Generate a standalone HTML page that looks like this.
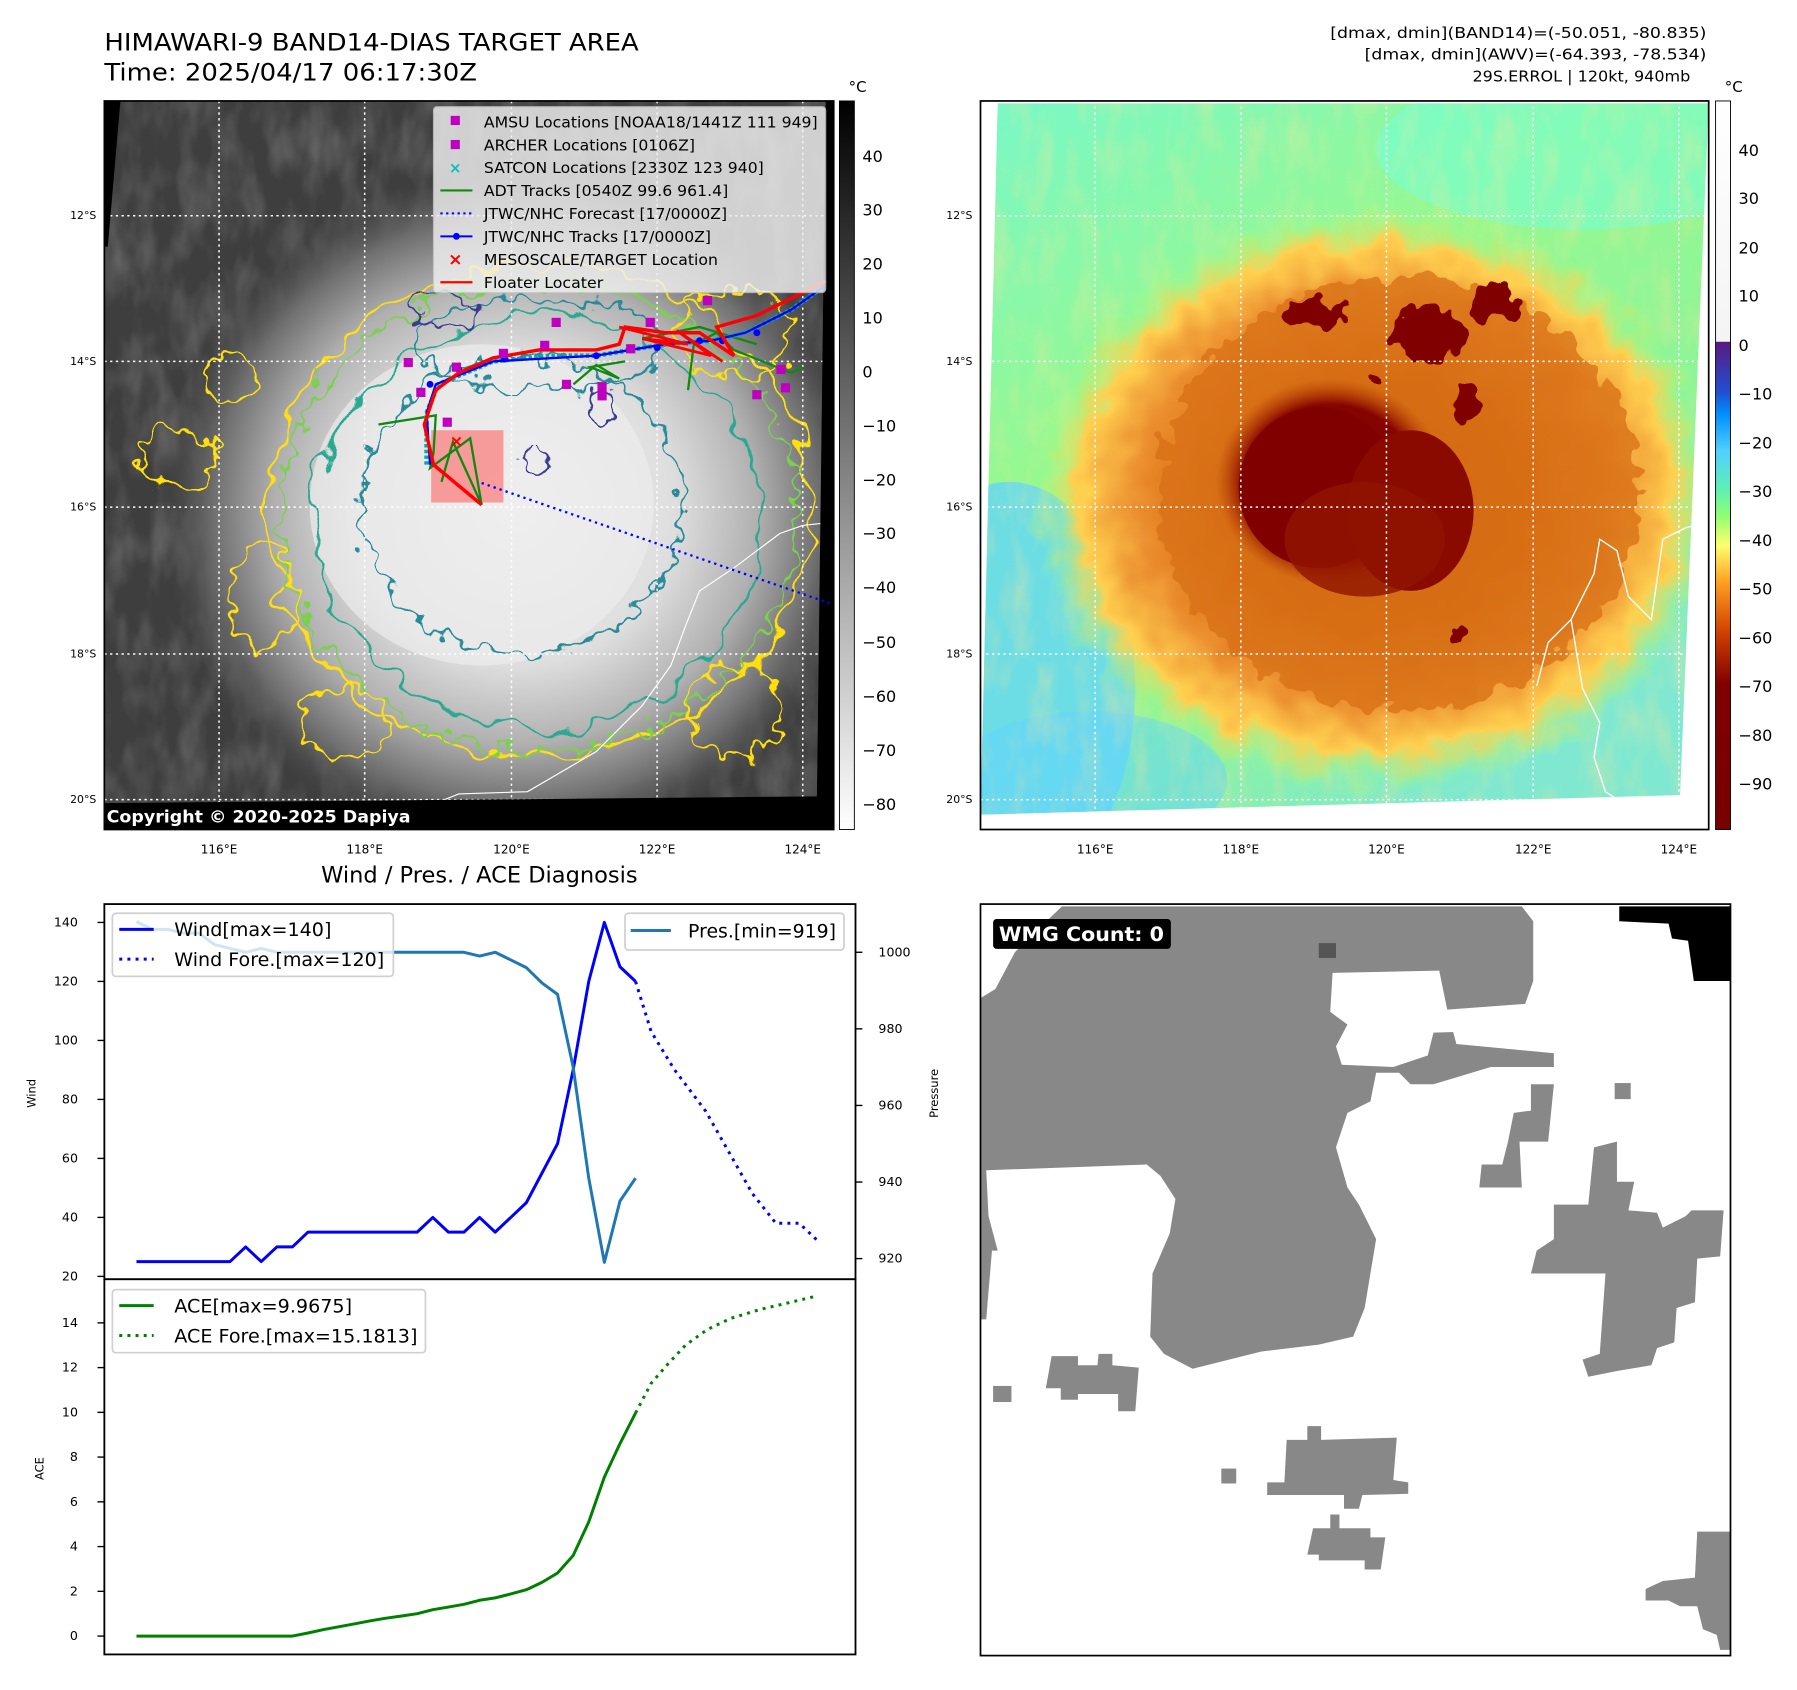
<!DOCTYPE html>
<html><head><meta charset="utf-8"><title>HIMAWARI-9 Target Area</title>
<style>html,body{margin:0;padding:0;background:#fff;}svg{display:block;font-family:"DejaVu Sans","Liberation Sans",sans-serif;}</style>
</head><body>
<svg id="root" width="1797" height="1690" viewBox="0 0 1567 1473" preserveAspectRatio="none" xmlns="http://www.w3.org/2000/svg">
<defs>
<filter id="wob" x="-20%" y="-20%" width="140%" height="140%"><feTurbulence type="fractalNoise" baseFrequency="0.035" numOctaves="2" seed="4"/><feDisplacementMap in="SourceGraphic" scale="38" xChannelSelector="R" yChannelSelector="G"/></filter>
<filter id="wob2" x="-20%" y="-20%" width="140%" height="140%"><feTurbulence type="fractalNoise" baseFrequency="0.06" numOctaves="2" seed="9"/><feDisplacementMap in="SourceGraphic" scale="30" xChannelSelector="R" yChannelSelector="G"/></filter>
<filter id="noiseL"><feTurbulence type="fractalNoise" baseFrequency="0.045 0.02" numOctaves="3" seed="7"/><feColorMatrix type="matrix" values="0 0 0 0 0.75  0 0 0 0 0.75  0 0 0 0 0.75  0 0 0 1.2 -0.45"/></filter>
<filter id="noiseR"><feTurbulence type="fractalNoise" baseFrequency="0.05 0.02" numOctaves="3" seed="5"/><feColorMatrix type="matrix" values="0 0 0 0 1  0 0 0 0 0.8  0 0 0 0 0.3  0 0 0 1.3 -0.55"/></filter>
<radialGradient id="cloudL" cx="0.5" cy="0.5" r="0.5"><stop offset="0" stop-color="#f2f2f2"/><stop offset="0.45" stop-color="#dedede"/><stop offset="0.68" stop-color="#b0b0b0"/><stop offset="0.85" stop-color="#707070"/><stop offset="1" stop-color="#4a4a4a" stop-opacity="0"/></radialGradient>
<radialGradient id="cloudR" cx="0.5" cy="0.5" r="0.5"><stop offset="0" stop-color="#c04a00"/><stop offset="0.45" stop-color="#d86a10"/><stop offset="0.7" stop-color="#ec9030"/><stop offset="0.86" stop-color="#ffd050"/><stop offset="1" stop-color="#a0ff80" stop-opacity="0"/></radialGradient>
<radialGradient id="coreR" cx="0.5" cy="0.5" r="0.5"><stop offset="0" stop-color="#800000"/><stop offset="0.75" stop-color="#860400"/><stop offset="1" stop-color="#b03800" stop-opacity="0"/></radialGradient>
<linearGradient id="bgR" x1="0" y1="0" x2="0.6" y2="1"><stop offset="0" stop-color="#78f8c8"/><stop offset="0.4" stop-color="#96f890"/><stop offset="0.75" stop-color="#8cf49a"/><stop offset="1" stop-color="#80e8d0"/></linearGradient>
<linearGradient id="cbL" x1="0" y1="0" x2="0" y2="1"><stop offset="0" stop-color="#000"/><stop offset="1" stop-color="#fff"/></linearGradient>
<linearGradient id="cbR" x1="0" y1="0" x2="0" y2="1">
<stop offset="0" stop-color="#ffffff"/><stop offset="0.33" stop-color="#f4f4f4"/><stop offset="0.331" stop-color="#5a1a80"/>
<stop offset="0.40" stop-color="#2050d0"/><stop offset="0.43" stop-color="#0090ff"/><stop offset="0.48" stop-color="#50d0ff"/><stop offset="0.535" stop-color="#60f0b0"/><stop offset="0.57" stop-color="#90ff70"/><stop offset="0.61" stop-color="#ffff70"/><stop offset="0.66" stop-color="#ffa020"/><stop offset="0.73" stop-color="#d04000"/><stop offset="0.80" stop-color="#800000"/><stop offset="1" stop-color="#780000"/></linearGradient>
<clipPath id="clipL"><rect x="91" y="88" width="636" height="635"/></clipPath>
<clipPath id="clipR"><polygon points="870,90 1490,90 1465,693 855,710"/></clipPath>
</defs>

<!-- titles -->
<text x="91" y="44" font-size="21" textLength="466" lengthAdjust="spacingAndGlyphs">HIMAWARI-9 BAND14-DIAS TARGET AREA</text>
<text x="91" y="70" font-size="21" textLength="325" lengthAdjust="spacingAndGlyphs">Time: 2025/04/17 06:17:30Z</text>
<g font-size="13" text-anchor="end">
<text x="1488" y="33" textLength="328" lengthAdjust="spacingAndGlyphs">[dmax, dmin](BAND14)=(-50.051, -80.835)</text>
<text x="1488" y="52" textLength="298" lengthAdjust="spacingAndGlyphs">[dmax, dmin](AWV)=(-64.393, -78.534)</text>
<text x="1474" y="71" textLength="190" lengthAdjust="spacingAndGlyphs">29S.ERROL | 120kt, 940mb</text>
</g>

<!-- LEFT MAP -->
<g clip-path="url(#clipL)">
<rect x="91" y="88" width="636" height="635" fill="#3e3e3e"/>
<rect x="91" y="88" width="636" height="635" filter="url(#noiseL)" opacity="0.35"/>
<ellipse cx="450" cy="445" rx="310" ry="300" fill="url(#cloudL)"/>
<ellipse cx="420" cy="440" rx="150" ry="140" fill="#ececec" opacity="0.7"/>
<g fill="none" stroke-width="2.2">
<ellipse cx="470" cy="445" rx="235" ry="215" stroke="#ffe010" filter="url(#wob)"/>
<ellipse cx="470" cy="450" rx="225" ry="205" stroke="#7cd050" filter="url(#wob2)"/>
<ellipse cx="470" cy="455" rx="195" ry="180" stroke="#2aa890" filter="url(#wob)"/>
<ellipse cx="455" cy="440" rx="140" ry="130" stroke="#2a8a98" filter="url(#wob2)"/>
<ellipse cx="470" cy="300" rx="110" ry="40" stroke="#2a8a98" filter="url(#wob2)"/>
<ellipse cx="465" cy="402" rx="14" ry="10" stroke="#3a3a90" filter="url(#wob2)"/>
<ellipse cx="388" cy="272" rx="30" ry="14" stroke="#3a3a90" filter="url(#wob2)"/>
<ellipse cx="525" cy="355" rx="12" ry="14" stroke="#3a3a90" filter="url(#wob2)"/>
<ellipse cx="155" cy="400" rx="35" ry="25" stroke="#ffe010" filter="url(#wob2)"/>
<ellipse cx="230" cy="520" rx="30" ry="45" stroke="#ffe010" filter="url(#wob2)"/>
<ellipse cx="300" cy="630" rx="40" ry="30" stroke="#ffe010" filter="url(#wob2)"/>
<ellipse cx="640" cy="620" rx="40" ry="40" stroke="#ffe010" filter="url(#wob2)"/>
<ellipse cx="200" cy="330" rx="25" ry="20" stroke="#ffe010" filter="url(#wob2)"/>
<ellipse cx="640" cy="290" rx="50" ry="40" stroke="#ffe010" filter="url(#wob2)"/>
</g>
<path d="M365,716 L380,700 L400,692 L460,690 L520,655 L560,615 L585,580 L598,545 L610,515 L640,495 L660,480 L680,465 L700,458 L727,455" fill="none" stroke="#fff" stroke-width="1"/>
<g stroke="#fff" stroke-width="1.3" stroke-dasharray="2,3">
<line x1="191" y1="88" x2="191" y2="723"/><line x1="318" y1="88" x2="318" y2="723"/><line x1="446" y1="88" x2="446" y2="723"/><line x1="573" y1="88" x2="573" y2="723"/><line x1="700" y1="88" x2="700" y2="723"/>
<line x1="91" y1="188" x2="727" y2="188"/><line x1="91" y1="315" x2="727" y2="315"/><line x1="91" y1="442" x2="727" y2="442"/><line x1="91" y1="570" x2="727" y2="570"/><line x1="91" y1="697" x2="727" y2="697"/>
</g>
<polygon points="91,88 105,88 94,215 91,215" fill="#000"/>
<polygon points="91,700 727,694 727,723 91,723" fill="#000"/>
<polygon points="720,88 727,88 727,723 712,723" fill="#000"/>
<rect x="376" y="375" width="63" height="63" fill="#ff6464" opacity="0.6"/>
<polyline points="420,421 727,527" fill="none" stroke="#0000ff" stroke-width="2" stroke-dasharray="2,3.5"/>
<g stroke="#118811" stroke-width="2" fill="none">
<polyline points="330,370 380,362 378,395 375,408 410,382 420,440 395,385 385,420"/>
<polyline points="500,335 520,318 540,330 515,320 545,315"/>
<polyline points="600,340 605,300 625,290 640,305 690,325 700,320"/>
<polyline points="560,295 610,285 660,300"/>
</g>
<polyline points="372,405 372,360 382,335 430,315 480,310 520,310 550,305 580,300 620,297 650,290 690,270 718,250" fill="none" stroke="#00aaaa" stroke-width="4" stroke-dasharray="3,2"/>
<polyline points="375,405 372,360 380,335 430,315 520,310 550,305 580,300 620,297 650,290 690,270 718,250" fill="none" stroke="#0000ff" stroke-width="2"/>
<g fill="#0000ff"><circle cx="375" cy="335" r="3"/><circle cx="400" cy="322" r="3"/><circle cx="440" cy="313" r="3"/><circle cx="520" cy="310" r="3"/><circle cx="573" cy="303" r="3"/><circle cx="610" cy="297" r="3"/><circle cx="630" cy="297" r="3"/><circle cx="660" cy="290" r="3"/></g>
<polyline points="420,440 378,405 370,370 380,340 400,325 430,312 470,305 520,305 540,300 545,285 580,290 610,290 640,310 625,285 660,275 700,255 720,245" fill="none" stroke="#ff0000" stroke-width="3"/>
<polyline points="540,285 600,300 560,295 620,310 590,288 630,315" fill="none" stroke="#ff0000" stroke-width="2.5"/>
<text x="398" y="389" font-size="14" fill="#ff0000" font-weight="bold" text-anchor="middle">×</text>
<g fill="#c000c0">
<rect x="352" y="312" width="8" height="8"/><rect x="394" y="316" width="8" height="8"/><rect x="435" y="304" width="8" height="8"/><rect x="471" y="297" width="8" height="8"/><rect x="481" y="277" width="8" height="8"/><rect x="490" y="331" width="8" height="8"/><rect x="521" y="333" width="8" height="16"/><rect x="563" y="277" width="8" height="8"/><rect x="613" y="258" width="8" height="8"/><rect x="656" y="340" width="8" height="8"/><rect x="677" y="318" width="8" height="8"/><rect x="681" y="334" width="8" height="8"/><rect x="363" y="338" width="8" height="8"/><rect x="386" y="364" width="8" height="8"/><rect x="546" y="300" width="8" height="8"/>
</g>
<text x="93" y="717" font-size="15" font-weight="bold" fill="#fff" textLength="265" lengthAdjust="spacingAndGlyphs">Copyright © 2020-2025 Dapiya</text>
</g>
<rect x="91" y="88" width="636" height="635" fill="none" stroke="#000" stroke-width="1.5"/>
<g>
<rect x="378" y="93" width="342" height="162" rx="3" fill="#f0f0f0" opacity="0.82" stroke="#ccc"/>
<g font-size="13">
<rect x="393" y="101" width="8" height="8" fill="#c000c0"/><text x="422" y="111" textLength="291" lengthAdjust="spacingAndGlyphs">AMSU Locations [NOAA18/1441Z 111 949]</text>
<rect x="393" y="122" width="8" height="8" fill="#c000c0"/><text x="422" y="131" textLength="184" lengthAdjust="spacingAndGlyphs">ARCHER Locations [0106Z]</text>
<text x="397" y="151" fill="#00c0c0" font-size="13" text-anchor="middle" font-weight="bold">×</text><text x="422" y="151" textLength="244" lengthAdjust="spacingAndGlyphs">SATCON Locations [2330Z 123 940]</text>
<line x1="384" y1="166" x2="412" y2="166" stroke="#118811" stroke-width="1.8"/><text x="422" y="171" textLength="213" lengthAdjust="spacingAndGlyphs">ADT Tracks [0540Z 99.6 961.4]</text>
<line x1="384" y1="186" x2="412" y2="186" stroke="#0000ff" stroke-width="1.8" stroke-dasharray="2,3"/><text x="422" y="191" textLength="212" lengthAdjust="spacingAndGlyphs">JTWC/NHC Forecast [17/0000Z]</text>
<line x1="384" y1="206" x2="412" y2="206" stroke="#0000ff" stroke-width="1.8"/><circle cx="398" cy="206" r="3" fill="#0000ff"/><text x="422" y="211" textLength="198" lengthAdjust="spacingAndGlyphs">JTWC/NHC Tracks [17/0000Z]</text>
<text x="397" y="231" fill="#ff0000" font-size="15" text-anchor="middle" font-weight="bold">×</text><text x="422" y="231" textLength="204" lengthAdjust="spacingAndGlyphs">MESOSCALE/TARGET Location</text>
<line x1="384" y1="246" x2="412" y2="246" stroke="#ff0000" stroke-width="2"/><text x="422" y="251" textLength="104" lengthAdjust="spacingAndGlyphs">Floater Locater</text>
</g></g>
<rect x="732" y="88" width="13" height="635" fill="url(#cbL)" stroke="#000" stroke-width="0.8"/>
<text x="740" y="80" font-size="13">°C</text>
<g font-size="14">
<text x="752" y="141">40</text><text x="752" y="188">30</text><text x="752" y="235">20</text><text x="752" y="282">10</text><text x="752" y="329">0</text><text x="752" y="376">−10</text><text x="752" y="423">−20</text><text x="752" y="470">−30</text><text x="752" y="517">−40</text><text x="752" y="565">−50</text><text x="752" y="612">−60</text><text x="752" y="659">−70</text><text x="752" y="706">−80</text>
</g>
<g font-size="9.5" text-anchor="end">
<text x="84" y="191">12°S</text><text x="84" y="318">14°S</text><text x="84" y="445">16°S</text><text x="84" y="573">18°S</text><text x="84" y="700">20°S</text></g>
<g font-size="10.5" text-anchor="middle">
<text x="191" y="744">116°E</text><text x="318" y="744">118°E</text><text x="446" y="744">120°E</text><text x="573" y="744">122°E</text><text x="700" y="744">124°E</text></g>

<!-- RIGHT MAP -->
<rect x="855" y="88" width="635" height="635" fill="#fff"/>
<g clip-path="url(#clipR)">
<rect x="855" y="88" width="635" height="635" fill="url(#bgR)"/>
<ellipse cx="880" cy="600" rx="110" ry="180" fill="#60d4ff" opacity="0.75"/>
<ellipse cx="950" cy="680" rx="120" ry="60" fill="#60d4ff" opacity="0.5"/>
<ellipse cx="1380" cy="130" rx="180" ry="70" fill="#70ffe0" opacity="0.5"/>
<rect x="855" y="88" width="635" height="635" filter="url(#noiseR)" opacity="0.55"/>
<ellipse cx="1200" cy="435" rx="300" ry="255" fill="url(#cloudR)" filter="url(#wob)"/>
<ellipse cx="1220" cy="430" rx="210" ry="190" fill="#d87018" opacity="0.75" filter="url(#wob2)"/>
<ellipse cx="1160" cy="420" rx="100" ry="90" fill="url(#coreR)"/>
<ellipse cx="1150" cy="425" rx="70" ry="70" fill="#800000"/>
<ellipse cx="1230" cy="445" rx="55" ry="70" fill="#8a0a00"/>
<ellipse cx="1190" cy="470" rx="70" ry="50" fill="#901400" opacity="0.8"/>
<g fill="#800000" filter="url(#wob2)">
<ellipse cx="1148" cy="272" rx="25" ry="12"/><ellipse cx="1245" cy="290" rx="30" ry="28"/><ellipse cx="1302" cy="262" rx="18" ry="16"/><ellipse cx="1200" cy="330" rx="10" ry="7"/><ellipse cx="1280" cy="350" rx="10" ry="15"/><ellipse cx="1272" cy="556" rx="10" ry="8"/></g>
<path d="M1430,710 L1400,690 L1390,660 L1395,630 L1380,600 L1375,570 L1370,540 L1390,500 L1395,470 L1410,480 L1420,520 L1440,540 L1450,470 L1470,460 L1490,455" fill="none" stroke="#fff" stroke-width="1.2"/>
<path d="M1340,598 L1350,560 L1370,540" fill="none" stroke="#fff" stroke-width="1.2"/>
<g stroke="#fff" stroke-width="1.3" stroke-dasharray="2,3">
<line x1="955" y1="88" x2="955" y2="723"/><line x1="1082" y1="88" x2="1082" y2="723"/><line x1="1209" y1="88" x2="1209" y2="723"/><line x1="1337" y1="88" x2="1337" y2="723"/><line x1="1464" y1="88" x2="1464" y2="723"/>
<line x1="855" y1="188" x2="1490" y2="188"/><line x1="855" y1="315" x2="1490" y2="315"/><line x1="855" y1="442" x2="1490" y2="442"/><line x1="855" y1="570" x2="1490" y2="570"/><line x1="855" y1="697" x2="1490" y2="697"/>
</g>
</g>
<rect x="855" y="88" width="635" height="635" fill="none" stroke="#000" stroke-width="1.5"/>
<rect x="1496" y="88" width="13" height="635" fill="url(#cbR)" stroke="#000" stroke-width="0.8"/>
<text x="1504" y="80" font-size="13">°C</text>
<g font-size="14">
<text x="1516" y="136">40</text><text x="1516" y="178">30</text><text x="1516" y="221">20</text><text x="1516" y="263">10</text><text x="1516" y="306">0</text><text x="1516" y="348">−10</text><text x="1516" y="391">−20</text><text x="1516" y="433">−30</text><text x="1516" y="476">−40</text><text x="1516" y="518">−50</text><text x="1516" y="561">−60</text><text x="1516" y="603">−70</text><text x="1516" y="646">−80</text><text x="1516" y="688">−90</text>
</g>
<g font-size="9.5" text-anchor="end">
<text x="848" y="191">12°S</text><text x="848" y="318">14°S</text><text x="848" y="445">16°S</text><text x="848" y="573">18°S</text><text x="848" y="700">20°S</text></g>
<g font-size="10.5" text-anchor="middle">
<text x="955" y="744">116°E</text><text x="1082" y="744">118°E</text><text x="1209" y="744">120°E</text><text x="1337" y="744">122°E</text><text x="1464" y="744">124°E</text></g>

<!-- WMG mask panel -->
<g>
<rect x="855" y="788" width="654" height="655" fill="#fff"/>
<g fill="#888">
<polygon points="926,790 1327,790 1337,803 1337,855 1330,875 1262,880 1270,910 1355,918 1355,930 1300,930 1250,945 1230,945 1220,935 1200,935 1195,960 1175,970 1165,1000 1175,1035 1185,1050 1200,1080 1190,1140 1180,1165 1150,1172 1100,1178 1040,1193 1015,1180 1003,1165 1005,1110 1020,1075 1025,1045 1012,1025 1000,1015 975,1028 935,1040 912,1075 880,1090 865,1090 860,1150 855,1150 855,870 868,862 885,830 900,815"/>
<polygon points="1355,1050 1385,1050 1390,1000 1410,995 1410,1030 1425,1030 1420,1055 1445,1057 1450,1070 1470,1060 1475,1055 1503,1055 1500,1095 1480,1097 1478,1135 1462,1140 1460,1170 1445,1175 1440,1190 1410,1195 1385,1200 1380,1185 1395,1180 1400,1110 1335,1110 1340,1090 1355,1080"/>
<polygon points="1335,945 1355,945 1350,995 1325,995 1327,1035 1290,1035 1292,1015 1310,1015 1315,995 1320,970 1335,968"/>
<rect x="1408" y="944" width="14" height="14"/>
<polygon points="917,1182 940,1182 940,1190 957,1190 958,1180 970,1180 970,1190 993,1192 990,1230 975,1230 975,1215 940,1215 940,1220 925,1220 925,1210 912,1210"/>
<rect x="866" y="1208" width="16" height="14"/>
<polygon points="1140,1243 1152,1243 1152,1255 1218,1253 1215,1290 1228,1292 1228,1302 1188,1303 1185,1315 1172,1315 1172,1303 1105,1303 1105,1292 1120,1292 1122,1255 1140,1255"/>
<rect x="1065" y="1280" width="13" height="13"/>
<polygon points="1160,1320 1168,1320 1168,1332 1195,1332 1195,1340 1208,1340 1204,1368 1190,1368 1190,1360 1150,1360 1150,1355 1140,1355 1145,1332 1160,1332"/>
<polygon points="1480,1335 1509,1335 1509,1438 1500,1438 1497,1425 1485,1420 1480,1400 1465,1400 1455,1395 1435,1395 1435,1385 1450,1378 1478,1375"/>
</g>
<polygon points="1162,848 1255,846 1262,880 1325,886 1320,898 1250,900 1245,920 1215,930 1170,928 1165,912 1175,893 1160,882" fill="#fff"/>
<polygon points="860,1020 1000,1015 1012,1030 1008,1060 975,1072 965,1080 940,1076 930,1095 880,1097 870,1090 862,1060" fill="#fff"/>
<polygon points="1412,790 1509,790 1509,855 1477,855 1472,820 1458,818 1455,805 1412,803" fill="#000"/>
<rect x="1150" y="822" width="15" height="13" fill="#555"/>
<rect x="855" y="788" width="654" height="655" fill="none" stroke="#000" stroke-width="1.5"/>
<rect x="866" y="801" width="155" height="26" rx="3" fill="#000"/>
<text x="871" y="820" font-size="17" font-weight="bold" fill="#fff" textLength="144" lengthAdjust="spacingAndGlyphs">WMG Count: 0</text>
</g>

<!-- Diagnosis chart -->
<text x="418" y="769" font-size="19" text-anchor="middle" textLength="276" lengthAdjust="spacingAndGlyphs">Wind / Pres. / ACE Diagnosis</text>
<rect x="91" y="788" width="655" height="327" fill="#fff" stroke="#000" stroke-width="1.6"/>
<rect x="91" y="1115" width="655" height="327" fill="#fff" stroke="#000" stroke-width="1.6"/>
<text transform="translate(31,953) rotate(-90)" font-size="10" text-anchor="middle">Wind</text>
<text transform="translate(818,953) rotate(-90)" font-size="10" text-anchor="middle">Pressure</text>
<text transform="translate(38,1280) rotate(-90)" font-size="10" text-anchor="middle">ACE</text>
<g id="chart"></g>
<g>
<rect x="98" y="796" width="245" height="55" rx="3" fill="#fff" fill-opacity="0.8" stroke="#d0d0d0" stroke-width="1.5"/>
<line x1="104" y1="810" x2="134" y2="810" stroke="#0000ff" stroke-width="2.6"/>
<line x1="104" y1="836" x2="134" y2="836" stroke="#0000ff" stroke-width="2.6" stroke-dasharray="2.6,4.5"/>
<text x="152" y="816" font-size="16.5" textLength="137" lengthAdjust="spacingAndGlyphs">Wind[max=140]</text><text x="152" y="842" font-size="16.5" textLength="183" lengthAdjust="spacingAndGlyphs">Wind Fore.[max=120]</text>
</g>
<g>
<rect x="545" y="796" width="191" height="32" rx="3" fill="#fff" fill-opacity="0.8" stroke="#d0d0d0" stroke-width="1.5"/>
<line x1="550" y1="811" x2="585" y2="811" stroke="#1f77b4" stroke-width="2.6"/>
<text x="600" y="817" font-size="16.5" textLength="129" lengthAdjust="spacingAndGlyphs">Pres.[min=919]</text>
</g>
<g>
<rect x="98" y="1124" width="273" height="55" rx="3" fill="#fff" fill-opacity="0.8" stroke="#d0d0d0" stroke-width="1.5"/>
<line x1="104" y1="1138" x2="134" y2="1138" stroke="#008000" stroke-width="2.6"/>
<line x1="104" y1="1164" x2="134" y2="1164" stroke="#008000" stroke-width="2.6" stroke-dasharray="2.6,4.5"/>
<text x="152" y="1144" font-size="16.5" textLength="155" lengthAdjust="spacingAndGlyphs">ACE[max=9.9675]</text><text x="152" y="1170" font-size="16.5" textLength="212" lengthAdjust="spacingAndGlyphs">ACE Fore.[max=15.1813]</text>
</g>
</svg>
<script>
// ---- chart data ----
const windObs = [25,25,25,25,25,25,25,30,25,30,30,35,35,35,35,35,35,35,35,40,35,35,40,35,40,45,55,65,90,120,140,125,120];
const windForeTimes = [32,33,34.5,36.5,38,39.5,41,42.5,43.7];
const windFore = [120,103,90,76,62,48,38,38,32];
const presObs = [1008,1006,1006,1005,1005,1002,1001,1000,1001,1000,1000,1000,1000,1000,1000,1000,1000,1000,1000,1000,1000,1000,999,1000,998,996,992,989,970,941,919,935,941];
const aceObs = [0,0,0,0,0,0,0,0,0,0,0,0.14,0.29,0.42,0.55,0.68,0.8,0.9,1.0,1.18,1.3,1.42,1.6,1.71,1.88,2.07,2.4,2.82,3.6,5.1,7.1,8.6,9.97];
const aceForeTimes = [32,33,34,35.2,36.6,38.1,40,41.8,43.5];
const aceFore = [9.97,11.3,12.1,13,13.7,14.2,14.6,14.9,15.18];
const windTicks = [20,40,60,80,100,120,140];
const presTicks = [920,940,960,980,1000];
const aceTicks = [0,2,4,6,8,10,12,14];

// ---- axes ----
const NS = 'http://www.w3.org/2000/svg';
const xS = i => 119 + i * 13.6;
const yW = v => 1112.5 - (v - 20) * (308.5 / 120);
const yP = v => 1097 - (v - 920) * (267 / 80);
const yA = v => 1426 - v * (273 / 14);
const chart = document.getElementById('chart');
function mk(tag, attrs){const e=document.createElementNS(NS,tag);for(const k in attrs)e.setAttribute(k,attrs[k]);chart.appendChild(e);return e;}
function line(xs, ys, color, dash, name){
  const pts = xs.map((x,i)=>x.toFixed(1)+','+ys[i].toFixed(1)).join(' ');
  const e = mk('polyline',{points:pts,fill:'none',stroke:color,'stroke-width':2.6,'stroke-linejoin':'round'});
  if(dash) e.setAttribute('stroke-dasharray', dash);
  
  
}
windTicks.forEach(v=>{
  const y=yW(v);
  mk('line',{x1:85,y1:y,x2:91,y2:y,stroke:'#000','stroke-width':1.2});
  const t=mk('text',{x:68,y:y+3.5,'font-size':11,'text-anchor':'end'});t.textContent=v;
  
  
});
presTicks.forEach(v=>{
  const y=yP(v);
  mk('line',{x1:746,y1:y,x2:752,y2:y,stroke:'#000','stroke-width':1.2});
  const t=mk('text',{x:766,y:y+3.5,'font-size':11});t.textContent=v;
  
  
});
aceTicks.forEach(v=>{
  const y=yA(v);
  mk('line',{x1:85,y1:y,x2:91,y2:y,stroke:'#000','stroke-width':1.2});
  const t=mk('text',{x:68,y:y+3.5,'font-size':11,'text-anchor':'end'});t.textContent=v;
  
  
});
line(windObs.map((_,i)=>xS(i)), windObs.map(yW), '#0000ff', null, 'wind-line');
line(windForeTimes.map(xS), windFore.map(yW), '#0000ff', '2.6,4.5', 'wind-forecast-line');
line(presObs.map((_,i)=>xS(i)), presObs.map(yP), '#1f77b4', null, 'pressure-line');
line(aceObs.map((_,i)=>xS(i)), aceObs.map(yA), '#008000', null, 'ace-line');
line(aceForeTimes.map(xS), aceFore.map(yA), '#008000', '2.6,4.5', 'ace-forecast-line');
</script>
</body></html>
